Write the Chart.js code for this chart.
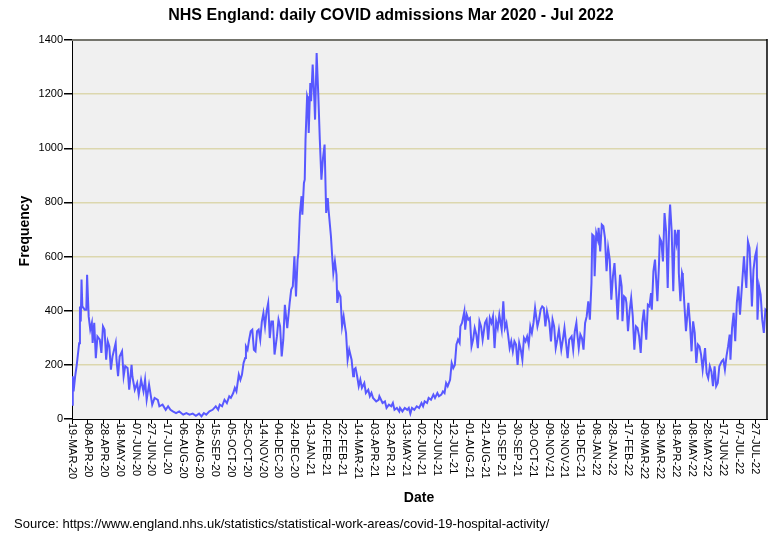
<!DOCTYPE html>
<html>
<head>
<meta charset="utf-8">
<script src="https://cdn.jsdelivr.net/npm/chart.js@4.4.1/dist/chart.umd.min.js"></script>
<style>
  html, body { margin: 0; padding: 0; background: #fff; }
  #wrap { width: 783px; height: 542px; position: relative; }
</style>
</head>
<body>
<div id="wrap"><canvas id="chart" width="783" height="542"></canvas></div>
<script>
// days since 19-MAR-20
const days = [
  0, 1, 2, 4, 6, 9, 10, 11, 12, 13, 16, 18, 19, 21, 23, 25, 26, 28, 30, 32,
  35, 37, 39, 41, 43, 45, 47, 49, 51, 55, 56, 58, 60, 63, 65, 67, 70, 72, 75, 76,
  79, 82, 84, 87, 90, 92, 94, 97, 101, 104, 108, 110, 114, 118, 121, 124, 127, 131, 135, 140,
  144, 148, 152, 156, 160, 163, 166, 169, 173, 177, 181, 184, 186, 189, 192, 195, 198, 200, 203, 205,
  207, 210, 212, 214, 216, 218, 219, 221, 223, 225, 227, 229, 231, 233, 235, 237, 239, 241, 243, 245,
  247, 249, 251, 253, 255, 258, 260, 262, 264, 266, 268, 271, 274, 276, 278, 280, 282, 284, 285, 287,
  289, 290, 292, 293, 294, 296, 297, 298, 300, 301, 303, 305, 306, 308, 310, 312, 314, 316, 318, 320,
  322, 323, 326, 328, 329, 331, 333, 334, 336, 338, 340, 342, 344, 345, 347, 349, 352, 354, 355, 357,
  359, 361, 363, 365, 368, 370, 373, 375, 377, 379, 383, 386, 387, 391, 394, 396, 399, 402, 404, 406,
  409, 412, 413, 416, 419, 422, 424, 426, 428, 431, 434, 437, 440, 442, 444, 447, 449, 452, 455, 457,
  460, 462, 465, 467, 469, 471, 473, 476, 478, 480, 482, 484, 486, 488, 489, 491, 494, 495, 497, 499,
  501, 503, 505, 507, 509, 511, 513, 515, 517, 520, 522, 524, 526, 528, 530, 532, 534, 536, 538, 541,
  543, 545, 547, 549, 551, 553, 555, 557, 559, 561, 563, 565, 567, 569, 571, 573, 575, 577, 579, 581,
  583, 586, 588, 590, 592, 594, 596, 598, 601, 603, 605, 607, 609, 611, 613, 616, 618, 620, 622, 624,
  626, 629, 631, 633, 635, 636, 638, 640, 642, 644, 646, 648, 650, 652, 654, 655, 657, 658, 660, 662,
  663, 665, 667, 669, 671, 673, 675, 677, 679, 681, 683, 685, 687, 690, 692, 693, 695, 697, 698, 700,
  702, 704, 706, 708, 710, 712, 714, 716, 718, 720, 721, 723, 725, 727, 729, 730, 732, 734, 737, 739,
  740, 742, 744, 746, 748, 750, 752, 753, 755, 757, 759, 761, 763, 764, 766, 768, 769, 771, 773, 776,
  778, 780, 782, 784, 786, 788, 790, 792, 794, 797, 799, 801, 803, 805, 807, 809, 811, 813, 815, 818,
  820, 822, 824, 826, 828, 829, 831, 833, 835, 837, 839, 841, 844, 846, 847, 849, 851, 853, 855, 856,
  858, 860, 862, 863, 865, 867, 869, 871, 873, 875
];
const admissions = [
  53, 158, 102, 158, 200, 280, 416, 360, 515, 416, 404, 404, 533, 379, 330, 355, 281, 355, 225, 305,
  293, 244, 342, 330, 219, 287, 268, 182, 231, 281, 219, 158, 231, 250, 158, 195, 188, 108, 200, 158,
  108, 133, 90, 145, 102, 145, 71, 127, 53, 78, 71, 47, 53, 34, 47, 34, 28, 22, 28, 16,
  22, 16, 20, 12, 20, 10, 22, 16, 28, 34, 47, 34, 53, 47, 71, 59, 84, 78, 96, 115,
  102, 164, 145, 164, 207, 225, 268, 256, 293, 324, 330, 256, 250, 324, 330, 293, 360, 392, 342, 398,
  428, 299, 360, 360, 238, 305, 367, 342, 231, 293, 422, 336, 428, 478, 490, 601, 453, 589, 613, 761,
  823, 755, 872, 884, 1032, 1192, 1180, 1057, 1241, 1174, 1309, 1186, 1106, 1352, 1204, 1032, 884, 964, 1014, 761,
  816, 773, 675, 582, 539, 582, 533, 429, 466, 453, 342, 379, 336, 318, 219, 256, 219, 158, 182, 188,
  158, 121, 145, 115, 133, 96, 108, 84, 96, 78, 65, 71, 84, 59, 65, 41, 53, 47, 59, 34,
  41, 28, 41, 28, 41, 34, 41, 20, 41, 34, 47, 41, 59, 47, 65, 59, 78, 71, 90, 78,
  96, 84, 90, 102, 96, 133, 121, 145, 207, 188, 200, 275, 293, 281, 342, 355, 398, 330, 385, 367,
  373, 268, 293, 336, 312, 262, 361, 342, 293, 355, 367, 293, 373, 355, 379, 262, 361, 336, 385, 330,
  435, 336, 355, 312, 262, 287, 250, 287, 275, 200, 281, 256, 219, 299, 287, 305, 275, 342, 318, 355,
  410, 342, 367, 404, 416, 410, 342, 398, 355, 287, 367, 342, 262, 293, 330, 256, 293, 336, 281, 225,
  293, 305, 256, 324, 355, 318, 262, 312, 299, 256, 355, 379, 435, 367, 502, 681, 675, 527, 687, 663,
  706, 619, 718, 712, 669, 546, 632, 589, 441, 527, 576, 478, 367, 533, 490, 361, 453, 447, 429, 324,
  398, 447, 379, 256, 342, 336, 305, 244, 355, 404, 367, 293, 422, 416, 465, 404, 546, 589, 435, 570,
  669, 656, 582, 761, 693, 484, 736, 792, 693, 472, 699, 650, 699, 539, 435, 539, 527, 422, 324, 429,
  355, 250, 361, 318, 207, 275, 268, 238, 182, 262, 170, 151, 195, 176, 121, 195, 121, 133, 195, 213,
  219, 182, 232, 268, 312, 219, 336, 392, 287, 429, 490, 385, 515, 601, 552, 484, 656, 632, 502, 416,
  552, 601, 626, 367, 490, 459, 367, 318, 404, 398
];
// x tick labels, one every 20 days from 19-MAR-20
const tickLabels = [
  '19-MAR-20', '08-APR-20', '28-APR-20', '18-MAY-20', '07-JUN-20', '27-JUN-20', '17-JUL-20', '06-AUG-20',
  '26-AUG-20', '15-SEP-20', '05-OCT-20', '25-OCT-20', '14-NOV-20', '04-DEC-20', '24-DEC-20', '13-JAN-21',
  '02-FEB-21', '22-FEB-21', '14-MAR-21', '03-APR-21', '23-APR-21', '13-MAY-21', '02-JUN-21', '22-JUN-21',
  '12-JUL-21', '01-AUG-21', '21-AUG-21', '10-SEP-21', '30-SEP-21', '20-OCT-21', '09-NOV-21', '29-NOV-21',
  '19-DEC-21', '08-JAN-22', '28-JAN-22', '17-FEB-22', '09-MAR-22', '29-MAR-22', '18-APR-22', '08-MAY-22',
  '28-MAY-22', '17-JUN-22', '07-JUL-22', '27-JUL-22'
];
const tickDays = tickLabels.map((_, i) => i * 20);
const yTicks = [0, 200, 400, 600, 800, 1000, 1200, 1400];

const FONT = "'Liberation Sans', Arial, sans-serif";

const decor = {
  id: 'decor',
  beforeDraw(chart) {
    const { ctx, chartArea: a } = chart;
    ctx.save();
    ctx.fillStyle = '#F0F0F0';
    ctx.fillRect(a.left, a.top, a.right - a.left, a.bottom - a.top);
    ctx.restore();
  },
  afterDraw(chart) {
    const { ctx, chartArea: a } = chart;
    const xs = chart.scales.x;
    ctx.save();
    // frame: grey top, black right
    ctx.strokeStyle = '#74746C';
    ctx.lineWidth = 2;
    ctx.beginPath();
    ctx.moveTo(a.left, a.top);
    ctx.lineTo(a.right, a.top);
    ctx.stroke();
    ctx.strokeStyle = '#000';
    ctx.lineWidth = 1.5;
    ctx.beginPath();
    ctx.moveTo(a.right, a.top - 1);
    ctx.lineTo(a.right, a.bottom);
    ctx.stroke();

    // x tick labels, rotated to read top-down
    ctx.fillStyle = '#000';
    ctx.font = '11px ' + FONT;
    ctx.textAlign = 'left';
    ctx.textBaseline = 'middle';
    tickDays.forEach((d, i) => {
      const x = xs.getPixelForValue(d);
      ctx.save();
      ctx.translate(x, a.bottom + 4);
      ctx.rotate(Math.PI / 2);
      ctx.fillText(tickLabels[i], 0, 0);
      ctx.restore();
    });

    // titles
    ctx.textAlign = 'center';
    ctx.font = 'bold 16px ' + FONT;
    ctx.fillText('NHS England: daily COVID admissions Mar 2020 - Jul 2022', 391, 16);
    ctx.font = 'bold 14px ' + FONT;
    ctx.fillText('Date', 419, 498);
    ctx.save();
    ctx.translate(25, 231);
    ctx.rotate(-Math.PI / 2);
    ctx.fillText('Frequency', 0, 0);
    ctx.restore();

    ctx.textAlign = 'left';
    ctx.font = '13px ' + FONT;
    ctx.fillText('Source: https://www.england.nhs.uk/statistics/statistical-work-areas/covid-19-hospital-activity/', 14, 524);
    ctx.restore();
  }
};

new Chart(document.getElementById('chart'), {
  type: 'line',
  data: {
    datasets: [{
      data: days.map((d, i) => ({ x: d, y: admissions[i] })),
      borderColor: '#5858FF',
      borderWidth: 2,
      pointRadius: 0,
      tension: 0,
      fill: false
    }]
  },
  options: {
    responsive: false,
    animation: false,
    devicePixelRatio: 1,
    layout: { padding: { top: 40, right: 16, left: 0, bottom: 0 } },
    plugins: { legend: { display: false }, tooltip: { enabled: false } },
    scales: {
      x: {
        type: 'linear',
        min: 0,
        max: 875,
        afterBuildTicks: s => { s.ticks = tickDays.map(v => ({ value: v })); },
        afterFit: s => { s.height = 123; },
        ticks: { display: false },
        grid: { drawOnChartArea: false, drawTicks: true, tickLength: 5, tickColor: '#000' },
        border: { display: true, color: '#000', width: 1 }
      },
      y: {
        min: 0,
        max: 1400,
        afterBuildTicks: s => { s.ticks = yTicks.map(v => ({ value: v })); },
        afterFit: s => { s.width = 72; },
        ticks: { color: '#000', font: { family: FONT, size: 11 }, padding: 1, callback: v => String(v) },
        grid: {
          color: c => (c.tick && (c.tick.value === 0 || c.tick.value === 1400)) ? 'rgba(0,0,0,0)' : '#DCD7AE',
          lineWidth: 1.5,
          tickLength: 8,
          tickColor: '#000'
        },
        border: { display: true, color: '#000', width: 1 }
      }
    }
  },
  plugins: [decor]
});
</script>
</body>
</html>
